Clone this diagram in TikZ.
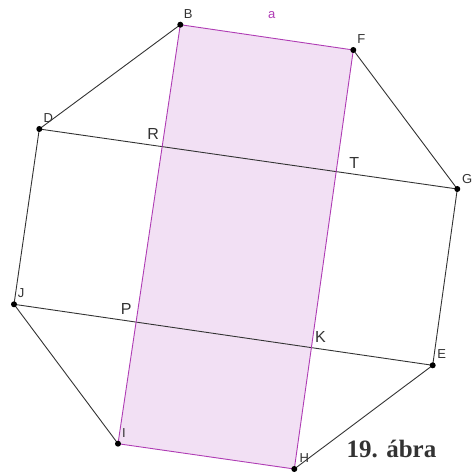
\documentclass[tikz,border=0pt]{standalone}
\usepackage{fontspec}
\setsansfont{Liberation Sans}
\setmainfont{Liberation Serif}
\usetikzlibrary{calc}
\definecolor{lila}{RGB}{175,60,180}
\definecolor{lilafill}{RGB}{242,224,244}
\definecolor{szurke}{RGB}{51,51,51}
\tikzset{
  % pontok
  pont/.style={circle,fill=black,inner sep=0pt,minimum size=6pt},
  vl/.style={font=\sffamily\fontsize{13}{13}\selectfont,text=szurke,inner sep=0pt},
  il/.style={font=\sffamily\fontsize{16}{16}\selectfont,text=szurke,inner sep=0pt},
  % vonalak
  oldal/.style={draw=szurke,line width=0.9pt},
  teglalap/.style={draw=lila,line width=0.9pt},
  tfill/.style={fill=lilafill},
}
\begin{document}
\begin{tikzpicture}[x=1pt,y=-1pt]
\useasboundingbox (0,0) rectangle (474,473);
  \coordinate (B) at (180.3,24.7);
  \coordinate (F) at (353.3,50);
  \coordinate (G) at (457.3,189);
  \coordinate (E) at (432.7,365.3);
  \coordinate (H) at (294.3,469);
  \coordinate (I) at (118,443.7);
  \coordinate (J) at (14,304.3);
  \coordinate (D) at (39.3,129);
  \coordinate (R) at (intersection of D--G and B--I);
  \coordinate (T) at (intersection of D--G and F--H);
  \coordinate (P) at (intersection of J--E and B--I);
  \coordinate (K) at (intersection of J--E and F--H);
  \fill[tfill] (B) -- (F) -- (H) -- (I) -- cycle;
  \draw[oldal] (F) -- (G) -- (E) -- (H);
  \draw[oldal] (I) -- (J) -- (D) -- (B);
  \draw[oldal] (D) -- (G);
  \draw[oldal] (J) -- (E);
  \draw[teglalap] (B) -- (F) -- (H) -- (I) -- cycle;
  \foreach \p in {B,F,G,E,H,I,J,D}
    \node[pont] (p\p) at (\p) {};
  \foreach \p/\dx/\dy in {B/8/-11,F/8/-11,G/10/-10,E/9/-11,H/10/-11,I/6/-11,J/7/-11,D/9/-11}
    \node[vl] (l\p) at ($(\p)+(\dx,\dy)$) {\p};
  \foreach \p/\dx/\dy in {R/-9/-13,T/18/-9,P/-10/-13,K/9/-11}
    \node[il] (l\p) at ($(\p)+(\dx,\dy)$) {\p};
  \node[vl,text=lila] (la) at ($(B)!0.5!(F)+(5,-22)$) {a};
  \node[font=\bfseries\fontsize{25}{25}\selectfont,text=szurke,inner sep=0pt,anchor=base]
    (cim) at (391.5,457.3) {19. ábra};
\end{tikzpicture}
\end{document}
